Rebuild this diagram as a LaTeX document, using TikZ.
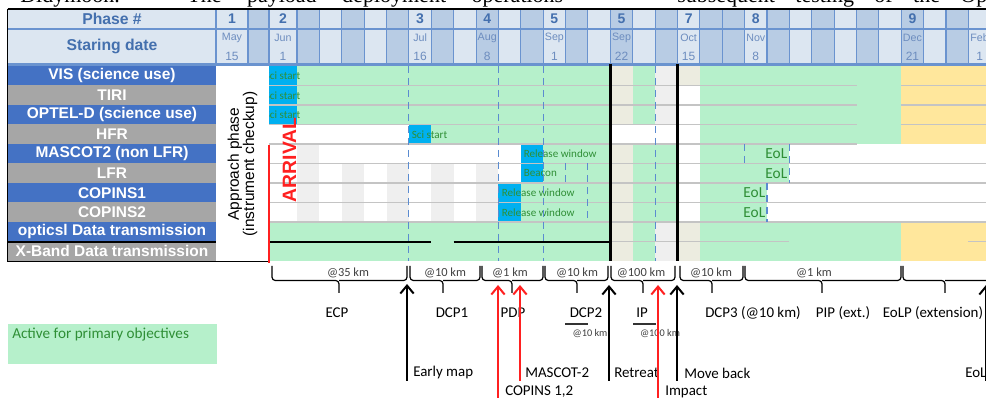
\documentclass[tikz,border=0pt]{standalone}
\usepackage{fontspec}
\setmainfont{Liberation Sans}
\newfontfamily\calfont{Carlito}
\newfontfamily\serfont{Liberation Serif}
\usetikzlibrary{arrows.meta}
\definecolor{hdrL}{HTML}{DCE6F1}
\definecolor{hdrD}{HTML}{B8CCE4}
\definecolor{hdrLine}{HTML}{6A93CF}
\definecolor{hdrTxt}{HTML}{4470AE}
\definecolor{hdrTxtB}{HTML}{6D8DBF}
\definecolor{lblB}{HTML}{4472C4}
\definecolor{lblG}{HTML}{A6A6A6}
\definecolor{actG}{HTML}{B6F0CB}
\definecolor{cyanB}{HTML}{00B0F0}
\definecolor{txtG}{HTML}{2F8F36}
\definecolor{beigeC}{HTML}{ECECE0}
\definecolor{lgreyC}{HTML}{EFEFEF}
\definecolor{yelC}{HTML}{FFE79C}
\definecolor{sepC}{HTML}{C4C4C4}
\definecolor{dashC}{HTML}{5B8BD0}
\definecolor{redC}{HTML}{FF2020}
\begin{document}
\begin{tikzpicture}[x=0.75pt,y=-0.75pt,
  lbl/.style={font=\fontsize{11.6}{13}\selectfont\bfseries, text=white, inner sep=0},
  hdr/.style={font=\fontsize{11.8}{13}\selectfont\bfseries, text=hdrTxt, inner sep=0},
  phn/.style={font=\fontsize{10.5}{12}\selectfont\bfseries, text=hdrTxt, inner sep=0},
  mon/.style={font=\fontsize{8}{9}\selectfont, text=hdrTxtB, inner sep=0},
  dyt/.style={font=\fontsize{9}{10}\selectfont, text=hdrTxtB, inner sep=0},
  intxt/.style={font=\calfont\fontsize{8.3}{10}\selectfont, text=txtG, anchor=west, inner sep=0},
  eoltxt/.style={font=\calfont\fontsize{11.5}{13}\selectfont, text=txtG, anchor=east, inner sep=0},
  blbl/.style={font=\calfont\fontsize{11.2}{13}\selectfont, inner sep=0},
  kmt/.style={font=\calfont\fontsize{9.3}{11}\selectfont, text=black!75, inner sep=0},
  kmsmall/.style={font=\calfont\fontsize{7.7}{9}\selectfont, text=black!75, inner sep=0},
  arlbl/.style={font=\calfont\fontsize{11.2}{13}\selectfont, anchor=west, inner sep=0},
  darr/.style={line width=1.5pt, -{Straight Barb[length=6pt,width=10pt]}},
  dashv/.style={dashC, line width=0.8pt, dash pattern=on 5pt off 4pt},
  bracep/.style={line width=0.9pt, rounded corners=2.5pt},
  hdrgrid/.style={hdrLine, line width=0.8pt},
  sepl/.style={sepC, line width=0.8pt}]
\useasboundingbox (0,0) rectangle (986,398);
\fill[white] (0,0) rectangle (986,398);

% cropped text line at the very top
\begin{scope}
\clip (0,0) rectangle (986,398);
\node[anchor=base west, inner sep=0, font=\serfont\fontsize{16.5}{18}\selectfont] (toptxtA) at (20,3) {\makebox[407.25pt][s]{Didymoon. The payload deployment operations}};
\node[anchor=base west, inner sep=0, font=\serfont\fontsize{16.5}{18}\selectfont] (toptxtB) at (677,3) {\makebox[232.5pt][s]{subsequent testing of the Op}};
\end{scope}

% ---------- header ----------
\fill[hdrL] (8,9) rectangle (986,64);
\fill[hdrD] (248,9) rectangle (269,64);
\foreach \j in {3,5,7,9,11,13,15,17,19,21,22,24,26,28,30,32}
  \fill[hdrD] ({297+22.38*(\j-3)},9) rectangle ({297+22.38*(\j-2)},64);
\foreach \x in {216,248,269} \draw[hdrgrid] (\x,9) -- (\x,64);
\foreach \j in {3,...,33} \draw[hdrgrid] ({297+22.38*(\j-3)},9) -- ({297+22.38*(\j-3)},64);
\draw[hdrgrid] (8,29) -- (986,29);
\draw[hdrLine, line width=1.8pt] (8,64.6) -- (986,64.6);
\draw[line width=0.9pt] (7.5,9) -- (986,9);

\node[hdr] (phlab) at (112,19) {Phase \#};
\node[hdr] (sdlab) at (112,46.5) {Staring date};
\node[phn] (ph0) at (232,19) {1};
\node[mon] (mo0) at (232,38) {May};
\node[dyt] (dy0) at (232,56) {15};
\node[phn] (ph2) at (283,19) {2};
\node[mon] (mo2) at (283,38) {Jun};
\node[dyt] (dy2) at (283,56) {1};
\foreach \j/\p/\m/\d in {8/3/Jul/16,11/4/Aug/8,14/5/Sep/1,17/5/Sep/22,20/7/Oct/15,23/8/Nov/8,30/9/Dec/21} {
  \node[phn] (ph\j) at ({297+22.38*(\j-3)+11.19},19) {\p};
  \node[mon] (mo\j) at ({297+22.38*(\j-3)+11.19},38) {\m};
  \node[dyt] (dy\j) at ({297+22.38*(\j-3)+11.19},56) {\d};
}
\node[mon] (mo33) at (979.6,38) {Feb};
\node[dyt] (dy33) at (979.6,56) {1};

% ---------- row labels ----------
\foreach \r/\t/\c in {0/{VIS (science use)}/lblB, 1/{TIRI}/lblG, 2/{OPTEL-D (science use)}/lblB,
  3/{HFR}/lblG, 4/{MASCOT2 (non LFR)}/lblB, 5/{LFR}/lblG, 6/{COPINS1}/lblB, 7/{COPINS2}/lblG,
  8/{opticsl Data transmission}/lblB, 9/{X-Band Data transmission}/lblG} {
  \pgfmathsetmacro\ya{66+19.5*\r}
  \fill[\c] (8,\ya) rectangle (216,\ya+19.5);
  \draw[white, line width=0.6pt] (8,\ya+19.5) -- (216,\ya+19.5);
  \node[lbl] (lab\r) at (112,\ya+9.9) {\t};
}

% ---------- chart fills ----------
% rows 0-2
\fill[cyanB] (269,66) rectangle (297,124.5);
\fill[actG] (297,66) rectangle (610.3,124.5);
\fill[beigeC] (610.3,66) rectangle (632.7,124.5);
\fill[actG] (632.7,66) rectangle (655.1,124.5);
\fill[lgreyC] (655.1,66) rectangle (677.5,124.5);
\fill[beigeC] (677.5,66) rectangle (699.8,85.5);
\fill[actG] (699.8,66) rectangle (901.3,144);
\fill[yelC] (901.3,66) rectangle (986,144);
% row 3
\fill[cyanB] (408.9,124.5) rectangle (431.3,144);
\fill[actG] (431.3,124.5) rectangle (610.3,144);
% rows 4-7
\fill[lgreyC] (297,144) rectangle (319.4,222);
\foreach \xl in {341.8,386.5,431.3,476.0}
  \fill[lgreyC] (\xl,163.5) rectangle (\xl+22.38,222);
\fill[cyanB] (520.8,144) rectangle (543.2,183);
\fill[actG] (543.2,144) rectangle (610.3,183);
\fill[cyanB] (498.4,183) rectangle (520.8,222);
\fill[actG] (520.8,183) rectangle (610.3,222);
\fill[beigeC] (610.3,144) rectangle (632.7,222);
\fill[actG] (632.7,144) rectangle (677.5,222);
\fill[actG] (699.8,144) rectangle (789.4,183);
\fill[actG] (699.8,183) rectangle (767,222);
% rows 8-9
\fill[actG] (269,222) rectangle (610.3,261);
\fill[beigeC] (610.3,222) rectangle (632.7,261);
\fill[actG] (632.7,222) rectangle (655.1,261);
\fill[lgreyC] (655.1,222) rectangle (677.5,261);
\fill[beigeC] (677.5,222) rectangle (699.8,261);
\fill[actG] (699.8,222) rectangle (901.3,261);
\fill[yelC] (901.3,222) rectangle (986,261);

% row separators
\foreach \y in {85.5,105,124.5,144,163.5,183,202.5,222}
  \draw[sepl] (269,\y) -- (856.5,\y);
\draw[sepl] (610.3,241.5) -- (789.4,241.5);
\foreach \y in {163.5,183,202.5,222} \draw[sepl] (856.5,\y) -- (986,\y);
\foreach \y in {85.5,105,124.5} \draw[sepl] (901.3,\y) -- (986,\y);
\draw[sepl] (968,241.5) -- (986,241.5);

% texts inside the chart
\node[intxt] (ci0) at (264.6,75.9) {Sci start};
\node[intxt] (ci1) at (264.6,95.4) {Sci start};
\node[intxt] (ci2) at (264.6,114.9) {Sci start};
\node[intxt] (sci3) at (411.5,134.4) {Sci start};
\node[intxt] (rw4) at (523.5,153.9) {Release window};
\node[intxt] (bc5) at (523.5,173.4) {Beacon};
\node[intxt] (rw6) at (501.5,192.9) {Release window};
\node[intxt] (rw7) at (501.5,212.4) {Release window};
\node[eoltxt] (eol4) at (787.5,153.9) {EoL};
\node[eoltxt] (eol5) at (787.5,173.4) {EoL};
\node[eoltxt] (eol6) at (765.5,192.9) {EoL};
\node[eoltxt] (eol7) at (765.5,212.4) {EoL};

% approach phase box
\fill[white] (216,66) rectangle (269,261.5);
\node[rotate=90, align=center, inner sep=0, font=\fontsize{11.6}{11.3}\selectfont] (appr) at (242.5,164) {Approach phase\\(instrument checkup)};

% dashed verticals
\foreach \x in {408.9,498.4,543.2,655.1} \draw[dashv] (\x,66) -- (\x,261);
\draw[dashv] (744.6,144) -- (744.6,163.5);
\draw[dashv] (789.4,144) -- (789.4,183);
\draw[dashv] (767,183) -- (767,222);
\draw[dashv] (565.6,163.5) -- (565.6,183);
\draw[dashv] (587.9,163.5) -- (587.9,222);

% black structure lines
\draw[line width=2.3pt] (610.3,64) -- (610.3,261.5);
\draw[line width=2.3pt] (677.5,64) -- (677.5,261.5);
\draw[line width=0.9pt] (7.5,242) -- (216,242);
\draw[line width=0.9pt] (269,242) -- (431.3,242);
\draw[line width=0.9pt] (453.7,242) -- (610.3,242);
\draw[line width=0.9pt] (7.5,9) -- (7.5,262);
\draw[line width=0.8pt] (7.5,261.8) -- (269,261.8);

% arrival
\draw[redC, line width=2pt] (269,145) -- (269,263);
\node[rotate=90, inner sep=0, text=redC, font=\fontsize{14.5}{16}\selectfont\bfseries] (arrv) at (289.5,160) {ARRIVAL};

% ---------- braces ----------
\foreach \i/\xa/\xm/\xb/\xl/\t in {1/272/339/407/348/{@35 km}, 2/410/443/480/445/{@10 km},
   3/482/512/543/510/{@1 km}, 4/545/577/608/577/{@10 km}, 5/611/643/675/641/{@100 km},
   6/680/712/743/711/{@10 km}, 7/745/822/901/814/{@1 km}, 8/903/945/995/945/{}} {
  \draw[bracep] (\xa,266) |- (\xm,280.5) -- (\xm,293);
  \draw[bracep] (\xb,266) |- (\xm,280.5);
  \node[kmt] (km\i) at (\xl,273) {\t};
}

% phase names
\node[blbl] (ecp) at (337,313) {ECP};
\node[blbl] (dcpa) at (452,313) {DCP1};
\node[blbl] (pdp) at (513,313) {PDP};
\node[blbl] (dcpb) at (586,313) {DCP2};
\node[blbl] (ipn) at (642,313) {IP};
\node[blbl] (dcpc) at (753,313) {DCP3 (@10 km)};
\node[blbl] (pip) at (843,313) {PIP (ext.)};
\node[blbl] (eolp) at (933,313) {EoLP (extension)};
\draw[line width=0.8pt, black!80] (565,324) -- (588,324);
\draw[line width=0.8pt, black!80] (633,324) -- (656,324);
\node[kmsmall] (dcpbkm) at (590,334) {@10 km};
\node[kmsmall] (ipkm) at (660,334) {@100 km};

% legend
\fill[actG] (8,324) rectangle (217,364);
\node[anchor=west, inner sep=0, text=txtG, font=\calfont\fontsize{11.4}{13}\selectfont] (legend) at (12,334.5) {Active for primary objectives};

% ---------- event arrows ----------
\node[arlbl] (lemap) at (413,373) {Early map};
\node[arlbl] (lmasc) at (525,373) {MASCOT-2};
\node[arlbl] (lcop) at (505,392) {COPINS 1,2};
\node[arlbl] (lret) at (614,373) {Retreat};
\node[arlbl] (limp) at (665,392) {Impact};
\node[arlbl] (lmove) at (684,373) {Move back};
\node[arlbl] (leol) at (965,373) {EoL};

\coordinate (emB) at (407,381); \coordinate (emT) at (407,284);
\coordinate (cpB) at (498,400); \coordinate (cpT) at (498,285);
\coordinate (msB) at (520,381); \coordinate (msT) at (520,285);
\coordinate (rtB) at (609,381); \coordinate (rtT) at (609,285);
\coordinate (imB) at (658,400); \coordinate (imT) at (658,285);
\coordinate (mbB) at (677,381); \coordinate (mbT) at (677,285);
\coordinate (elB) at (986,381); \coordinate (elT) at (986,285);
\draw[darr] (emB) -- (emT);
\draw[darr, redC] (cpB) -- (cpT);
\draw[darr, redC] (msB) -- (msT);
\draw[darr] (rtB) -- (rtT);
\draw[darr, redC] (imB) -- (imT);
\draw[darr] (mbB) -- (mbT);
\draw[darr] (elB) -- (elT);
\end{tikzpicture}
\end{document}
